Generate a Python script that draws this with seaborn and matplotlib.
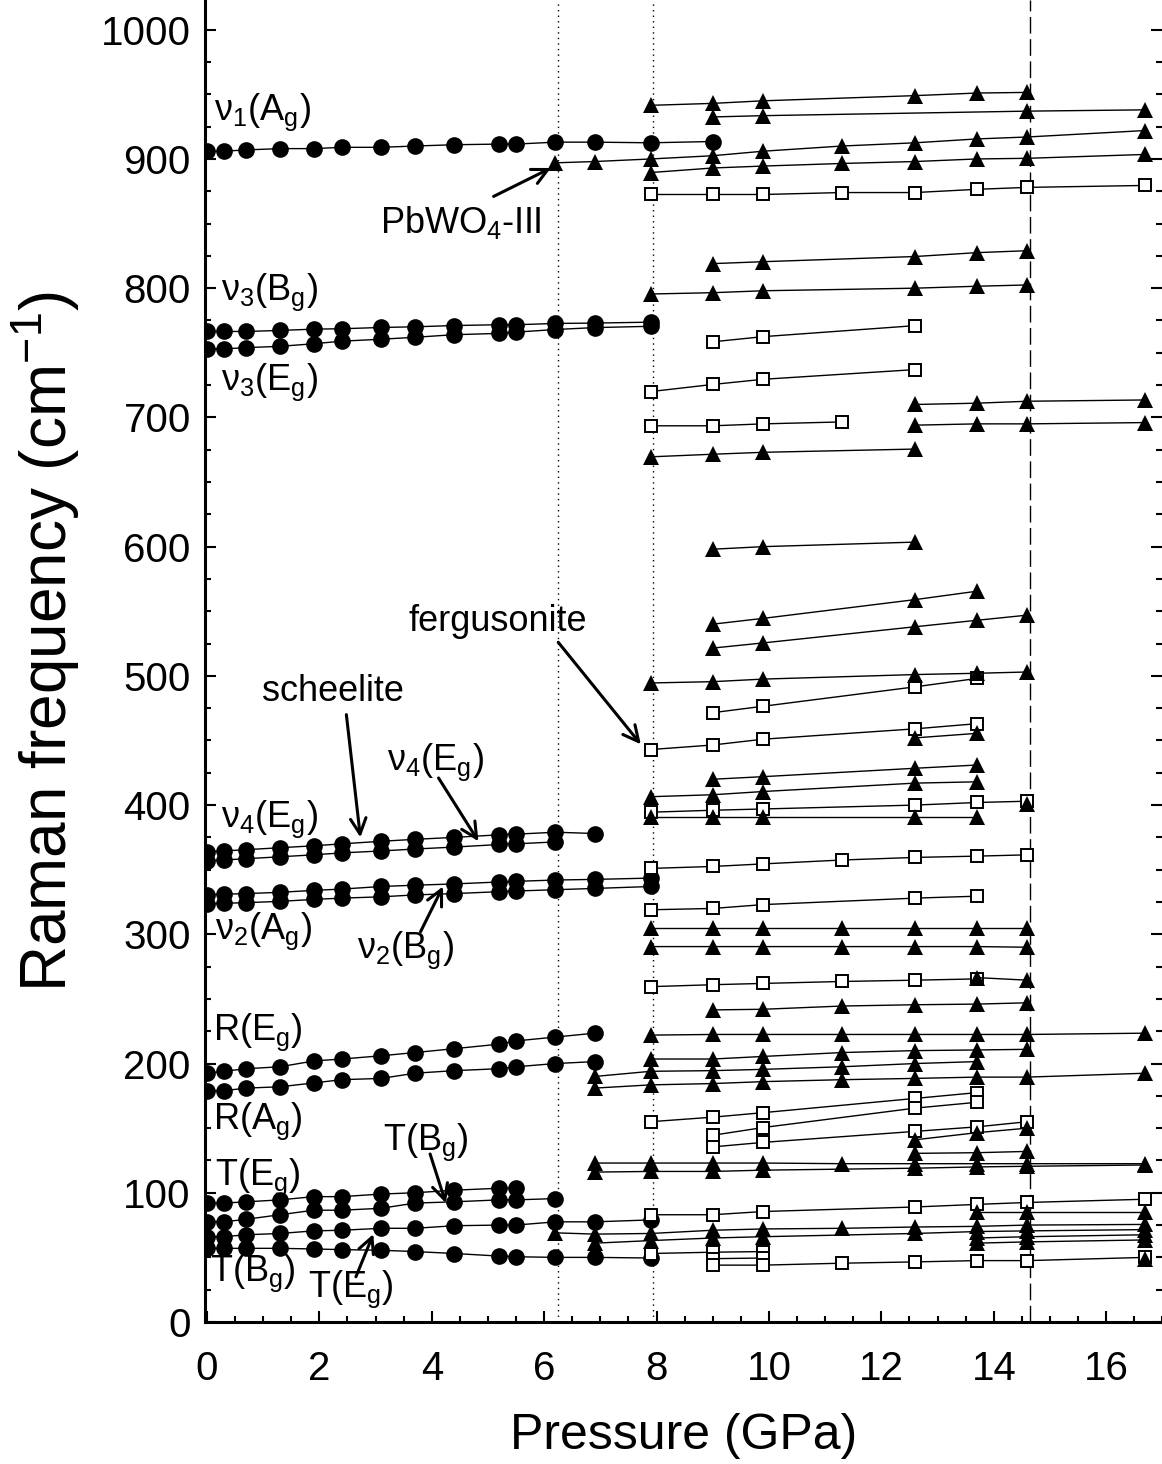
import matplotlib
matplotlib.use("Agg")
import matplotlib.pyplot as plt
from matplotlib.ticker import MultipleLocator
import seaborn as sns

# ---------------- scheelite phase (filled circles) ----------------
p_sch = [0.0, 0.3, 0.7, 1.3, 1.9, 2.4, 3.1, 3.7, 4.4, 5.2, 5.5, 6.2, 6.9, 7.9]

nu1_Ag_p = p_sch + [9.0]
nu1_Ag = [906, 906, 907, 908, 908, 909, 909, 910, 911, 911.5, 911.5, 913, 913, 912.5, 913.5]
nu3_Bg = [766.5, 766.5, 766.5, 767.3, 768.3, 768.6, 769.6, 770.1, 771.1, 771.7, 771.7, 772.7, 773, 773.7]
nu3_Eg = [753, 753, 754, 755, 757, 759, 760.5, 762, 764, 765, 766, 768, 769.5, 770.5]
nu4_Eg_hi = [364, 364.5, 365.5, 367, 368.5, 370, 372, 373.5, 375, 377, 377.5, 379, 378]
nu4_Eg_lo = [357, 357.5, 358.5, 360, 361.5, 363, 364.5, 366, 367.5, 369.5, 370, 371.5]
nu2_Bg = [330.5, 331, 331.5, 332.5, 334, 335, 337, 338, 339, 340.5, 341, 342, 342.5, 343.5]
nu2_Ag = [323.5, 324, 324.5, 325.5, 327, 328, 329, 330.5, 331.5, 333, 333.5, 334.5, 335.5, 337]
R_Eg = [192.5, 194, 196, 197.5, 202, 203.5, 206, 208.5, 211.5, 215, 217.5, 220.5, 223.5]
R_Ag = [179, 179, 181, 182, 185, 187.5, 188.5, 192.5, 194.5, 196, 197.5, 200, 201.5]
T_Eg_hi = [92, 92, 93, 94.5, 97, 97, 99, 100, 102, 103.5, 103.5]
T_Bg_hi = [77.5, 77.5, 79.5, 83, 86.5, 86.5, 88, 92, 93, 94.5, 94.5, 95.5]
T_Eg_lo = [66, 66, 67.5, 68.5, 70.5, 71, 72.5, 72.5, 74.5, 75, 75, 77.5, 77.5, 79]
T_Bg_lo = [57, 57, 57, 57, 56.5, 56, 55.5, 54.5, 53, 51, 50.5, 50, 50, 49.5]

# ---------------- high-pressure phases ----------------
# filled triangles
t01_p = [7.9, 9.0, 9.9, 12.6, 13.7, 14.6]
t01_w = [941.5, 943, 945, 949, 951, 951.5]
t02_p = [9.0, 9.9, 14.6, 16.7]
t02_w = [932.5, 933.5, 937, 938]
t03_p = [6.2, 6.9, 7.9, 9.0, 9.9, 11.3, 12.6, 13.7, 14.6, 16.7]
t03_w = [897, 898, 900, 902.5, 906, 910, 912.5, 915.5, 917, 922]
t04_p = [7.9, 9.0, 9.9, 11.3, 12.6, 13.7, 14.6, 16.7]
t04_w = [889.5, 893, 894.5, 896.5, 898, 900, 900.5, 903.5]
t05_p = [9.0, 9.9, 12.6, 13.7, 14.6]
t05_w = [819, 820.5, 824.5, 827.5, 829]
t06_p = [7.9, 9.0, 9.9, 12.6, 13.7, 14.6]
t06_w = [795.5, 796.5, 798, 800, 801.5, 802.5]
t07_p = [12.6, 13.7, 14.6, 16.7]
t07_w = [710, 711, 712.5, 713.5]
t08_p = [12.6, 13.7, 14.6, 16.7]
t08_w = [694, 695, 695, 696]
t09_p = [7.9, 9.0, 9.9, 12.6]
t09_w = [669.5, 671.5, 673, 675.5]
t10_p = [9.0, 9.9, 12.6]
t10_w = [598, 600, 603.5]
t11_p = [9.0, 9.9, 12.6, 13.7]
t11_w = [540, 544.5, 559, 565.5]
t12_p = [9.0, 9.9, 12.6, 13.7, 14.6]
t12_w = [521.5, 525.5, 538, 543, 547]
t13_p = [7.9, 9.0, 9.9, 12.6, 13.7, 14.6]
t13_w = [494.5, 495.5, 497.5, 501, 502, 503]
t14_p = [12.6, 13.7]
t14_w = [452, 455.5]
t15_p = [9.0, 9.9, 12.6, 13.7]
t15_w = [420, 422, 428.5, 431]
t16_p = [7.9, 9.0, 9.9, 12.6, 13.7]
t16_w = [406.5, 408, 410.5, 417, 418]
t17_p = [7.9, 9.0, 9.9, 12.6, 13.7]
t17_w = [390.5, 390.5, 390.5, 390.5, 390.5]
t18_p = [14.6]
t18_w = [401]
t19_p = [7.9, 9.0, 9.9, 11.3, 12.6, 13.7, 14.6]
t19_w = [305, 305, 305, 305, 305, 305, 305]
t20_p = [7.9, 9.0, 9.9, 11.3, 12.6, 13.7, 14.6]
t20_w = [290.5, 290.5, 290.5, 290.5, 290.5, 290.5, 290]
t21_p = [13.7, 14.6]
t21_w = [266.5, 264.5]
t22_p = [9.0, 9.9, 11.3, 12.6, 13.7, 14.6]
t22_w = [241.5, 242, 244.5, 245.5, 246, 247]
t23_p = [7.9, 9.0, 9.9, 11.3, 12.6, 13.7, 14.6, 16.7]
t23_w = [222, 222.5, 222.5, 222.5, 222.5, 222.5, 222.5, 223.5]
t24_p = [7.9, 9.0, 9.9, 11.3, 12.6, 13.7, 14.6]
t24_w = [203.5, 203.5, 205.5, 208.5, 210, 210.5, 211]
t25_p = [6.9, 7.9, 9.0, 9.9, 11.3, 12.6, 13.7]
t25_w = [190, 194, 194.5, 195.5, 197.5, 200, 201.5]
t26_p = [6.9, 7.9, 9.0, 9.9, 11.3, 12.6, 13.7, 14.6, 16.7]
t26_w = [181, 183.5, 184.5, 186, 187.5, 188.5, 189.5, 189.5, 192.5]
t27_p = [12.6, 13.7, 14.6]
t27_w = [141, 146.5, 150]
t28_p = [12.6, 13.7, 14.6]
t28_w = [130.5, 131, 132]
t29_p = [6.9, 7.9, 9.0, 9.9, 11.3, 12.6, 13.7, 14.6, 16.7]
t29_w = [123, 123, 123, 123, 122.5, 122.5, 122.5, 122.5, 122.5]
t30_p = [6.9, 7.9, 9.0, 9.9, 12.6, 13.7, 14.6, 16.7]
t30_w = [116, 116.5, 116.5, 117.5, 119, 120, 120.5, 121.5]
t31_p = [13.7, 14.6, 16.7]
t31_w = [85.5, 85.5, 85.5]
t32_p = [6.2, 6.9, 7.9, 9.0, 9.9, 11.3, 12.6, 13.7, 14.6, 16.7]
t32_w = [69, 68, 68.5, 71, 72, 72.5, 73.5, 74, 75, 75.5]
t33_p = [6.9, 7.9, 9.0, 9.9, 12.6, 13.7, 14.6, 16.7]
t33_w = [61, 63, 65, 66, 68.5, 70, 70.5, 71.5]
t34_p = [13.7, 14.6, 16.7]
t34_w = [65, 66, 67.5]
t35_p = [13.7, 14.6, 16.7]
t35_w = [61, 62, 63.5]
t36_p = [16.7]
t36_w = [49]

# open squares
s01_p = [7.9, 9.0, 9.9, 11.3, 12.6, 13.7, 14.6, 16.7]
s01_w = [872.5, 872.5, 872.5, 874, 874, 876.5, 878, 879.5]
s02_p = [9.0, 9.9, 12.6]
s02_w = [758.5, 762.5, 771]
s03_p = [7.9, 9.0, 9.9, 12.6]
s03_w = [720, 725.5, 729.5, 737]
s04_p = [7.9, 9.0, 9.9, 11.3]
s04_w = [693.5, 693.5, 695, 696.5]
s05_p = [9.0, 9.9, 12.6, 13.7]
s05_w = [471.5, 476.5, 491.5, 498]
s06_p = [7.9, 9.0, 9.9, 12.6, 13.7]
s06_w = [443, 446.5, 451, 459, 463]
s07_p = [7.9, 9.0, 9.9, 12.6, 13.7, 14.6]
s07_w = [394.5, 396, 397, 400, 402, 403]
s08_p = [7.9, 9.0, 9.9, 11.3, 12.6, 13.7, 14.6]
s08_w = [351, 352.5, 354.5, 357.5, 359.5, 360.5, 361.5]
s09_p = [7.9, 9.0, 9.9, 12.6, 13.7]
s09_w = [319, 320, 323, 328, 329.5]
s10_p = [7.9, 9.0, 9.9, 11.3, 12.6, 13.7]
s10_w = [259.5, 261, 262, 263.5, 264.5, 265.5]
s11_p = [7.9, 9.0, 9.9, 12.6, 13.7]
s11_w = [155, 158.5, 162, 173, 177.5]
s12_p = [9.0, 9.9, 12.6, 13.7]
s12_w = [144.5, 150.5, 165.5, 170]
s13_p = [9.0, 9.9, 12.6, 13.7, 14.6]
s13_w = [135.5, 139, 147.5, 151, 155]
s14_p = [7.9, 9.0, 9.9, 12.6, 13.7, 14.6, 16.7]
s14_w = [83, 83, 85.5, 89, 91, 92.5, 95]
s15_p = [7.9, 9.0, 9.9]
s15_w = [53, 54, 54.5]
s16_p = [9.0, 9.9]
s16_w = [49, 49.5]
s17_p = [9.0, 9.9, 11.3, 12.6, 13.7, 14.6, 16.7]
s17_w = [44, 44, 45.5, 46.5, 47.5, 47.5, 50]

# phase boundaries
p_transitions_dotted = [6.25, 7.94]
p_transition_dashed = 14.65

# ---------------- styling ----------------
sns.set_theme(style="ticks")
plt.rcParams["font.family"] = ["Liberation Sans", "DejaVu Sans"]
plt.rcParams.update({
    "mathtext.fontset": "custom",
    "mathtext.rm": "Liberation Sans",
    "mathtext.it": "Liberation Sans:italic",
    "mathtext.bf": "Liberation Sans:bold",
    "mathtext.default": "regular",
    "text.color": "black",
    "axes.labelcolor": "black",
    "xtick.color": "black",
    "ytick.color": "black",
    "axes.edgecolor": "black",
})

fig = plt.figure(figsize=(11.62, 14.64), dpi=100)
ax = fig.add_axes([0.1762, 0.0970, 0.8241, 0.9030])

LINE = dict(color="black", linewidth=1.0, estimator=None, sort=False, legend=False, ax=ax)
CIRCLE = dict(marker="o", markersize=12, markerfacecolor="black",
              markeredgecolor="black", markeredgewidth=0)
TRI = dict(marker="^", markersize=12, markerfacecolor="black",
           markeredgecolor="black", markeredgewidth=0)
SQUARE = dict(marker="s", markersize=8.3, markerfacecolor="white",
              markeredgecolor="black", markeredgewidth=1.4)


def draw(p, w, style):
    sns.lineplot(x=list(p), y=list(w), **LINE, **style)


for xv in p_transitions_dotted:
    ax.axvline(xv, color="black", linewidth=1.0, linestyle=(0, (1, 3)), zorder=1)
ax.axvline(p_transition_dashed, color="black", linewidth=1.0,
           linestyle=(0, (12, 4)), zorder=1)

# scheelite
draw(nu1_Ag_p, nu1_Ag, CIRCLE)
draw(p_sch, nu3_Bg, CIRCLE)
draw(p_sch, nu3_Eg, CIRCLE)
draw(p_sch[:13], nu4_Eg_hi, CIRCLE)
draw(p_sch[:12], nu4_Eg_lo, CIRCLE)
draw(p_sch, nu2_Bg, CIRCLE)
draw(p_sch, nu2_Ag, CIRCLE)
draw(p_sch[:13], R_Eg, CIRCLE)
draw(p_sch[:13], R_Ag, CIRCLE)
draw(p_sch[:11], T_Eg_hi, CIRCLE)
draw(p_sch[:12], T_Bg_hi, CIRCLE)
draw(p_sch, T_Eg_lo, CIRCLE)
draw(p_sch, T_Bg_lo, CIRCLE)

triangles = [
    (t01_p, t01_w), (t02_p, t02_w), (t03_p, t03_w), (t04_p, t04_w),
    (t05_p, t05_w), (t06_p, t06_w), (t07_p, t07_w), (t08_p, t08_w),
    (t09_p, t09_w), (t10_p, t10_w), (t11_p, t11_w), (t12_p, t12_w),
    (t13_p, t13_w), (t14_p, t14_w), (t15_p, t15_w), (t16_p, t16_w),
    (t17_p, t17_w), (t18_p, t18_w), (t19_p, t19_w), (t20_p, t20_w),
    (t21_p, t21_w), (t22_p, t22_w), (t23_p, t23_w), (t24_p, t24_w),
    (t25_p, t25_w), (t26_p, t26_w), (t27_p, t27_w), (t28_p, t28_w),
    (t29_p, t29_w), (t30_p, t30_w), (t31_p, t31_w), (t32_p, t32_w),
    (t33_p, t33_w), (t34_p, t34_w), (t35_p, t35_w), (t36_p, t36_w),
]
squares = [
    (s01_p, s01_w), (s02_p, s02_w), (s03_p, s03_w), (s04_p, s04_w),
    (s05_p, s05_w), (s06_p, s06_w), (s07_p, s07_w), (s08_p, s08_w),
    (s09_p, s09_w), (s10_p, s10_w), (s11_p, s11_w), (s12_p, s12_w),
    (s13_p, s13_w), (s14_p, s14_w), (s15_p, s15_w), (s16_p, s16_w),
    (s17_p, s17_w),
]
for p, w in squares:
    draw(p, w, SQUARE)
for p, w in triangles:
    draw(p, w, TRI)

# ---------------- axes ----------------
ax.set_xlim(-0.04, 17.0)
ax.set_ylim(0, 1023)
ax.xaxis.set_major_locator(MultipleLocator(2))
ax.xaxis.set_minor_locator(MultipleLocator(0.5))
ax.yaxis.set_major_locator(MultipleLocator(100))
ax.yaxis.set_minor_locator(MultipleLocator(25))
ax.tick_params(which="both", direction="in", right=True, top=False,
               colors="black", width=1.5)
ax.tick_params(which="major", length=8, labelsize=29)
ax.tick_params(which="minor", length=4.5)
ax.tick_params(axis="x", which="major", pad=20)
ax.tick_params(axis="y", which="major", pad=10)
for side in ("left", "bottom"):
    ax.spines[side].set_linewidth(2.2)
    ax.spines[side].set_color("black")
ax.spines["top"].set_visible(False)
ax.spines["right"].set_visible(False)

ax.set_xlabel("Pressure (GPa)", fontsize=36, labelpad=18)
ax.set_ylabel("Raman frequency (cm$^{-1}$)", fontsize=46, labelpad=10)
ax.yaxis.set_label_coords(-0.128, 0.515)

# ---------------- mode labels ----------------
FS = 26
labels = [
    (0.12, 936, "\u03bd$_1$(A$_g$)"),
    (0.25, 797, "\u03bd$_3$(B$_g$)"),
    (0.25, 727, "\u03bd$_3$(E$_g$)"),
    (0.25, 389, "\u03bd$_4$(E$_g$)"),
    (0.15, 302, "\u03bd$_2$(A$_g$)"),
    (0.1, 224, "R(E$_g$)"),
    (0.1, 155, "R(A$_g$)"),
    (0.15, 112, "T(E$_g$)"),
    (0.05, 38, "T(B$_g$)"),
]
for x, y, s in labels:
    ax.text(x, y, s, fontsize=FS, ha="left", va="center")

ARROW = dict(arrowstyle="->", color="black", linewidth=2.2, mutation_scale=28,
             shrinkA=0, shrinkB=0)
notes = [
    ("PbWO$_4$-III", (4.52, 851), (5.10, 871), (6.12, 893)),
    ("fergusonite", (5.18, 542), (6.25, 526), (7.72, 447)),
    ("scheelite", (2.24, 488), (2.48, 470), (2.73, 375)),
    ("\u03bd$_4$(E$_g$)", (4.06, 433), (4.12, 421), (4.83, 372)),
    ("\u03bd$_2$(B$_g$)", (3.54, 288), (3.80, 302), (4.20, 337)),
    ("T(B$_g$)", (3.90, 139), (3.97, 130), (4.25, 92)),
    ("T(E$_g$)", (2.55, 25), (2.65, 35), (2.96, 68)),
]
for s, (tx, ty), tail, head in notes:
    ax.text(tx, ty, s, fontsize=FS, ha="center", va="center")
    ax.annotate("", xy=head, xytext=tail, arrowprops=ARROW)

fig.savefig("out.png", dpi=100)
